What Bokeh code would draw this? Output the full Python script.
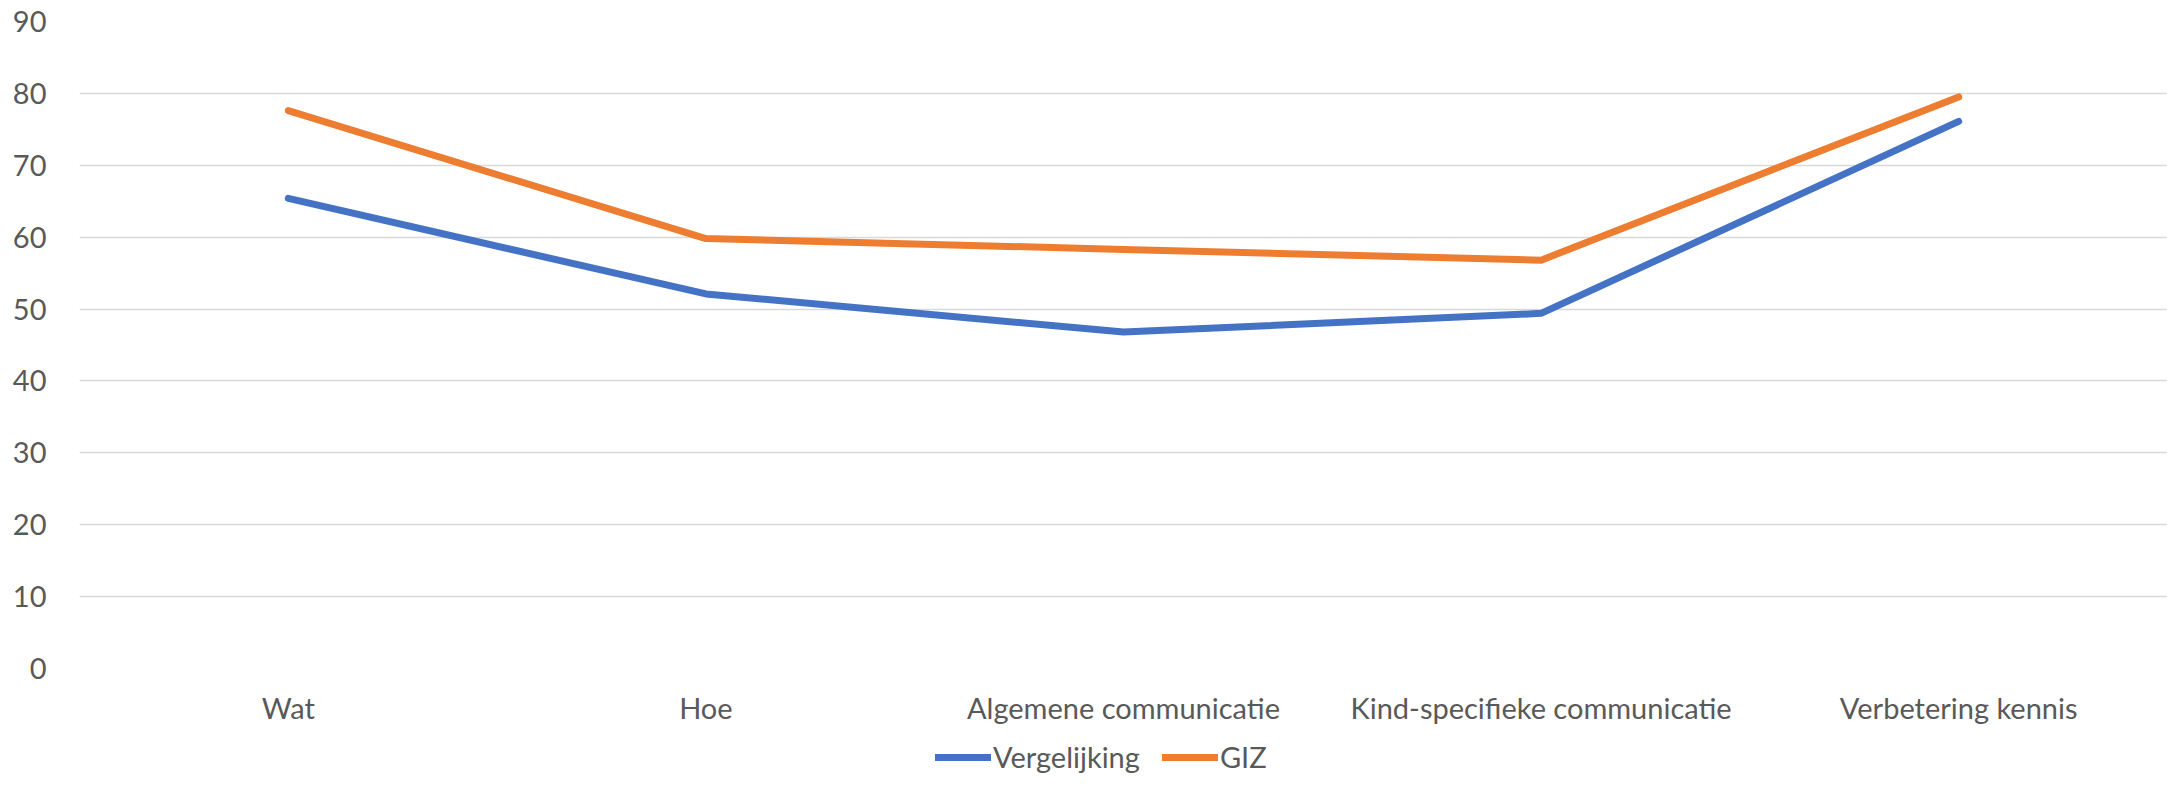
from bokeh.plotting import figure
from bokeh.models import Range1d, FactorRange, Legend, LegendItem, FixedTicker, Column
from bokeh.embed import file_html
from bokeh.resources import INLINE

categories = ["Wat", "Hoe", "Algemene communicatie", "Kind-specifieke communicatie", "Verbetering kennis"]
vergelijking = [65.4, 52.1, 46.8, 49.4, 76.1]
giz = [77.6, 59.8, 58.3, 56.8, 79.5]
y_ticks = [0, 10, 20, 30, 40, 50, 60, 70, 80, 90]
series_names = ["Vergelijking", "GIZ"]
series_colors = ["#4472C4", "#ED7D31"]

FONT = "Lato"
TXT = "#595959"
FS = "29px"
W = 2167
LW = 7

p = figure(width=W, height=738, x_range=FactorRange(*categories), y_range=Range1d(0, 90),
           output_backend="svg", toolbar_location=None,
           min_border_top=21, min_border_right=0, min_border_left=79, min_border_bottom=70)
p.outline_line_color = None

for vals, col in zip([vergelijking, giz], series_colors):
    p.line(categories, vals, line_color=col, line_width=LW, line_cap="round", line_join="round")

p.xgrid.grid_line_color = None
p.ygrid.grid_line_color = "#D9D9D9"
p.ygrid.grid_line_width = 1.5
p.yaxis.ticker = FixedTicker(ticks=y_ticks)

for ax in (p.xaxis[0], p.yaxis[0]):
    ax.axis_line_color = None
    ax.major_tick_line_color = None
    ax.minor_tick_line_color = None
    ax.major_tick_out = 0
    ax.minor_tick_out = 0
    ax.major_label_text_font = FONT
    ax.major_label_text_font_size = FS
    ax.major_label_text_color = TXT
p.yaxis.major_label_standoff = 33
p.xaxis.major_label_standoff = 21

# legend row beneath the chart: same series drawn out of view, only the legend shows
lg = figure(width=W, height=36, x_range=FactorRange(*categories), y_range=Range1d(200, 300),
            output_backend="svg", toolbar_location=None,
            min_border_top=0, min_border_bottom=0, min_border_left=0, min_border_right=0)
lg.outline_line_color = None
lg.xaxis.visible = False
lg.yaxis.visible = False
lg.grid.visible = False
items = []
for name, vals, col in zip(series_names, [vergelijking, giz], series_colors):
    r = lg.line(categories, vals, line_color=col, line_width=LW, line_cap="round")
    items.append(LegendItem(label=name, renderers=[r]))
legend = Legend(items=items, orientation="horizontal", location=(856, 0),
                label_text_font=FONT, label_text_font_size=FS, label_text_color=TXT,
                glyph_width=56, glyph_height=20, label_standoff=2, spacing=22,
                border_line_color=None, background_fill_alpha=0,
                padding=0, margin=0)
lg.add_layout(legend, "center")

layout = Column(p, lg, spacing=0)
open("out.html", "w").write(file_html(layout, INLINE))
